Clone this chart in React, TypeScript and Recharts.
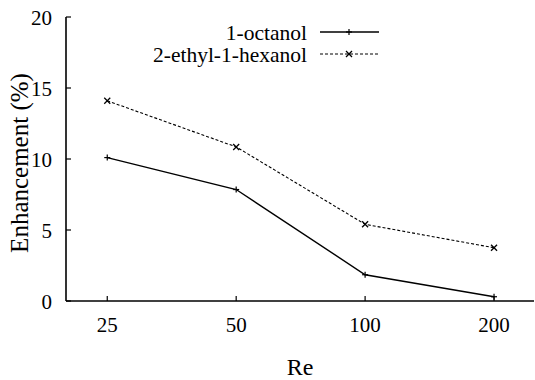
import { LineChart, Line, XAxis, YAxis } from "recharts";

const reLabels = ["25", "50", "100", "200"];
const octanol = [10.1, 7.85, 1.85, 0.3];
const ethylHexanol = [14.1, 10.85, 5.4, 3.75];
const yTicks = [0, 5, 10, 15, 20];

const data = reLabels.map((re, i) => ({
  idx: i + 1,
  re,
  octanol: octanol[i],
  ethyl: ethylHexanol[i],
}));

const FONT = "'Liberation Serif', 'Times New Roman', 'DejaVu Serif', serif";
const txt = { fontFamily: FONT, fill: "#000" };

function PlusDot(props: any) {
  const { cx, cy } = props;
  if (cx == null || cy == null) return null;
  return (
    <g stroke="#000" strokeWidth={1.2}>
      <line x1={cx - 3} y1={cy} x2={cx + 3} y2={cy} />
      <line x1={cx} y1={cy - 3} x2={cx} y2={cy + 3} />
    </g>
  );
}

function CrossDot(props: any) {
  const { cx, cy } = props;
  if (cx == null || cy == null) return null;
  return (
    <g stroke="#000" strokeWidth={1.3}>
      <line x1={cx - 3} y1={cy - 3} x2={cx + 3} y2={cy + 3} />
      <line x1={cx - 3} y1={cy + 3} x2={cx + 3} y2={cy - 3} />
    </g>
  );
}

function BottomTick(props: any) {
  const { x, y, payload } = props;
  return (
    <g>
      <line x1={x} y1={y} x2={x} y2={y - 5} stroke="#000" strokeWidth={1.2} />
      <text x={x} y={y + 31} textAnchor="middle" fontSize={21} style={txt}>
        {reLabels[payload.value - 1]}
      </text>
    </g>
  );
}

function TopTick(props: any) {
  const { x, y } = props;
  return <line x1={x} y1={y} x2={x} y2={y + 5} stroke="#000" strokeWidth={1.2} />;
}

function LeftTick(props: any) {
  const { x, y, payload } = props;
  return (
    <g>
      <line x1={x} y1={y} x2={x + 5} y2={y} stroke="#000" strokeWidth={1.2} />
      <text x={x - 14} y={y + 8} textAnchor="end" fontSize={21} style={txt}>
        {payload.value}
      </text>
    </g>
  );
}

function RightTick(props: any) {
  const { x, y } = props;
  return <line x1={x} y1={y} x2={x - 5} y2={y} stroke="#000" strokeWidth={1.2} />;
}

const legendRows = [
  { name: "1-octanol", dash: undefined as string | undefined, Dot: PlusDot },
  { name: "2-ethyl-1-hexanol", dash: "3 2", Dot: CrossDot },
];

function LegendBox() {
  return (
    <svg width={535} height={80} style={{ position: "absolute", left: 0, top: 0, pointerEvents: "none" }}>
      {legendRows.map((r, i) => {
        const cy = 32 + i * 22;
        return (
          <g key={r.name}>
            <text x={307} y={cy + 8} textAnchor="end" fontSize={21.5} style={txt}>
              {r.name}
            </text>
            <line x1={320} y1={cy} x2={379} y2={cy} stroke="#000" strokeWidth={r.dash ? 1 : 1.3} strokeDasharray={r.dash} />
            <r.Dot cx={349} cy={cy} />
          </g>
        );
      })}
    </svg>
  );
}

export default function App() {
  return (
    <div style={{ position: "absolute", left: 0, top: 0, width: 535, height: 380, background: "#fff" }}>
      <style>{`body{margin:0}`}</style>
      <LineChart width={535} height={380} data={data} margin={{ top: 17, right: 1, left: 0, bottom: 0 }}>
        <XAxis
          xAxisId="b"
          dataKey="idx"
          type="number"
          domain={[0.68, 4.31]}
          ticks={[1, 2, 3, 4]}
          height={79}
          tickSize={0}
          tickMargin={0}
          tick={<BottomTick />}
          axisLine={{ stroke: "#000", strokeWidth: 1.6 }}
          tickLine={false}
          allowDataOverflow
          label={{
            content: () => (
              <text x={300} y={375} textAnchor="middle" fontSize={24} style={txt}>
                Re
              </text>
            ),
          }}
        />
        <XAxis
          xAxisId="t"
          orientation="top"
          dataKey="idx"
          type="number"
          domain={[0.68, 4.31]}
          ticks={[1, 2, 3, 4]}
          height={0}
          tickSize={0}
          tickMargin={0}
          tick={<TopTick />}
          axisLine={{ stroke: "#000", strokeWidth: 1.6 }}
          tickLine={false}
          allowDataOverflow
        />
        <YAxis
          yAxisId="l"
          domain={[0, 20]}
          ticks={yTicks}
          width={66}
          tickSize={0}
          tickMargin={0}
          tick={<LeftTick />}
          axisLine={{ stroke: "#000", strokeWidth: 1.6 }}
          tickLine={false}
          label={{
            content: () => (
              <text transform="translate(28,163) rotate(-90)" textAnchor="middle" fontSize={25} style={txt}>
                Enhancement (%)
              </text>
            ),
          }}
        />
        <YAxis
          yAxisId="r"
          orientation="right"
          domain={[0, 20]}
          ticks={yTicks}
          width={0}
          tickSize={0}
          tickMargin={0}
          tick={<RightTick />}
          axisLine={{ stroke: "#000", strokeWidth: 1.6 }}
          tickLine={false}
        />
        <Line
          xAxisId="b"
          yAxisId="l"
          dataKey="octanol"
          name="1-octanol"
          stroke="#000"
          strokeWidth={1.4}
          dot={<PlusDot />}
          isAnimationActive={false}
          type="linear"
        />
        <Line
          xAxisId="b"
          yAxisId="l"
          dataKey="ethyl"
          name="2-ethyl-1-hexanol"
          stroke="#000"
          strokeWidth={1.1}
          strokeDasharray="3 2"
          dot={<CrossDot />}
          isAnimationActive={false}
          type="linear"
        />
      </LineChart>
      <LegendBox />
    </div>
  );
}
